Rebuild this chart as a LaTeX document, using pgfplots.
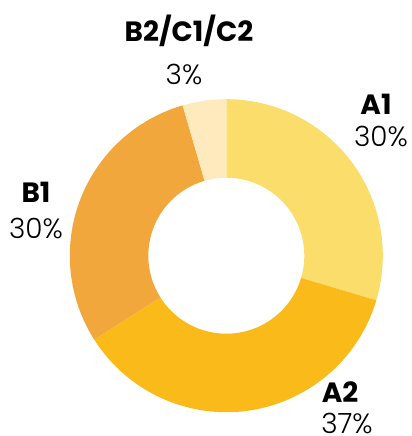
\documentclass[border=0pt]{standalone}
\usepackage{fontspec}
\setmainfont{Poppins}
\newfontfamily\lightfont{Poppins Light}
\usepackage{pgfplots}
\usepackage{pgfplotstable}
\pgfplotsset{compat=1.18}
\definecolor{cA1}{RGB}{250,221,106}
\definecolor{cA2}{RGB}{250,187,26}
\definecolor{cB1}{RGB}{242,167,60}
\definecolor{cB2}{RGB}{255,234,190}
\pgfplotstableread{
label value color
A1 29.6 cA1
A2 36.4 cA2
B1 29.5 cB1
B2/C1/C2 4.5 cB2
}\pietable
\begin{document}
\begin{tikzpicture}
\begin{axis}[
  x=1bp, y=1bp,
  xmin=-226.3, xmax=184.7,
  ymin=-180.3, ymax=255.7,
  hide axis, clip=false,
  scale only axis,
]
\def\angstart{90}
\pgfplotsforeachungrouped \i in {0,...,3}{%
  \pgfplotstablegetelem{\i}{value}\of\pietable
  \pgfmathsetmacro\angend{\angstart-3.6*\pgfplotsretval}%
  \pgfplotstablegetelem{\i}{color}\of\pietable
  \let\col\pgfplotsretval
  \pgfmathsetmacro\xa{156.5*cos(\angstart)}%
  \pgfmathsetmacro\ya{156.5*sin(\angstart)}%
  \pgfmathsetmacro\xb{78*cos(\angend)}%
  \pgfmathsetmacro\yb{78*sin(\angend)}%
  \edef\temp{\noexpand\fill[\col] (axis cs:\xa,\ya) arc[start angle=\angstart, end angle=\angend, radius=156.5bp] -- (axis cs:\xb,\yb) arc[start angle=\angend, end angle=\angstart, radius=78bp] -- cycle;}%
  \temp
  \let\angstart\angend
}
\node[anchor=base, font=\fontsize{28}{30}\selectfont\bfseries] at (axis cs:-37.3,213.7) {B2/C1/C2};
\node[anchor=base, font=\fontsize{28}{30}\selectfont\lightfont] at (axis cs:-42.3,170.7) {3\%};
\node[anchor=base, font=\fontsize{28}{30}\selectfont\bfseries] at (axis cs:-190.3,52.7) {B1};
\node[anchor=base, font=\fontsize{28}{30}\selectfont\lightfont] at (axis cs:-190.3,16.7) {30\%};
\node[anchor=base, font=\fontsize{28}{30}\selectfont\bfseries] at (axis cs:149.7,140.7) {A1};
\node[anchor=base, font=\fontsize{28}{30}\selectfont\lightfont] at (axis cs:154.7,108.7) {30\%};
\node[anchor=base, font=\fontsize{28}{30}\selectfont\bfseries] at (axis cs:113.7,-147.3) {A2};
\node[anchor=base, font=\fontsize{28}{30}\selectfont\lightfont] at (axis cs:120.7,-178.3) {37\%};
\end{axis}
\pgfresetboundingbox
\path (current axis.south west) rectangle (current axis.north east);
\end{tikzpicture}
\end{document}
